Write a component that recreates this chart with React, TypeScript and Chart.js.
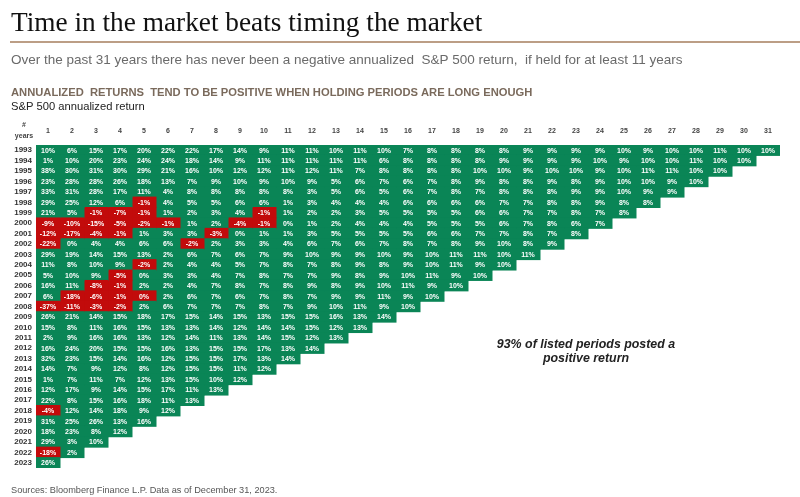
import React, { useEffect, useRef } from "react";
import { Chart, registerables } from "chart.js";

Chart.register(...registerables);

// ---- Data ----
const startYears = [
  1993, 1994, 1995, 1996, 1997, 1998, 1999, 2000, 2001, 2002, 2003, 2004, 2005, 2006, 2007, 2008,
  2009, 2010, 2011, 2012, 2013, 2014, 2015, 2016, 2017, 2018, 2019, 2020, 2021, 2022, 2023,
];
const holdingPeriods = [
  1, 2, 3, 4, 5, 6, 7, 8, 9, 10, 11, 12, 13, 14, 15, 16, 17, 18, 19, 20, 21, 22, 23, 24, 25, 26, 27, 28, 29, 30, 31,
];
const periodTickLabels = holdingPeriods.map((p) => String(p));

// Annualized return (%) for each start year, by holding period (1..n years)
const r1993 = [10, 6, 15, 17, 20, 22, 22, 17, 14, 9, 11, 11, 10, 11, 10, 7, 8, 8, 8, 8, 9, 9, 9, 9, 10, 9, 10, 10, 11, 10, 10];
const r1994 = [1, 10, 20, 23, 24, 24, 18, 14, 9, 11, 11, 11, 11, 11, 6, 8, 8, 8, 8, 9, 9, 9, 9, 10, 9, 10, 10, 11, 10, 10];
const r1995 = [38, 30, 31, 30, 29, 21, 16, 10, 12, 12, 11, 12, 11, 7, 8, 8, 8, 8, 10, 10, 9, 10, 10, 9, 10, 11, 11, 10, 10];
const r1996 = [23, 28, 28, 26, 18, 13, 7, 9, 10, 9, 10, 9, 5, 6, 7, 6, 7, 8, 9, 8, 8, 9, 8, 9, 10, 10, 9, 10];
const r1997 = [33, 31, 28, 17, 11, 4, 8, 8, 8, 8, 8, 3, 5, 6, 5, 6, 7, 8, 7, 8, 8, 8, 9, 9, 10, 9, 9];
const r1998 = [29, 25, 12, 6, -1, 4, 5, 5, 6, 6, 1, 3, 4, 4, 4, 6, 6, 6, 6, 7, 7, 8, 8, 9, 8, 8];
const r1999 = [21, 5, -1, -7, -1, 1, 2, 3, 4, -1, 1, 2, 2, 3, 5, 5, 5, 5, 6, 6, 7, 7, 8, 7, 8];
const r2000 = [-9, -10, -15, -5, -2, -1, 1, 2, -4, -1, 0, 1, 2, 4, 4, 4, 5, 5, 5, 6, 7, 8, 6, 7];
const r2001 = [-12, -17, -4, -1, 1, 3, 3, -3, 0, 1, 1, 3, 5, 5, 5, 5, 6, 6, 7, 7, 8, 7, 8];
const r2002 = [-22, 0, 4, 4, 6, 6, -2, 2, 3, 3, 4, 6, 7, 6, 7, 8, 7, 8, 9, 10, 8, 9];
const r2003 = [29, 19, 14, 15, 13, 2, 6, 7, 6, 7, 9, 10, 9, 9, 10, 9, 10, 11, 11, 10, 11];
const r2004 = [11, 8, 10, 9, -2, 2, 4, 4, 5, 7, 8, 7, 8, 9, 8, 9, 10, 11, 9, 10];
const r2005 = [5, 10, 9, -5, 0, 3, 3, 4, 7, 8, 7, 7, 9, 8, 9, 10, 11, 9, 10];
const r2006 = [16, 11, -8, -1, 2, 2, 4, 7, 8, 7, 8, 9, 8, 9, 10, 11, 9, 10];
const r2007 = [6, -18, -6, -1, -0.3, 2, 6, 7, 6, 7, 8, 7, 9, 9, 11, 9, 10];
const r2008 = [-37, -11, -3, -2, 2, 6, 7, 7, 7, 8, 7, 9, 10, 11, 9, 10];
const r2009 = [26, 21, 14, 15, 18, 17, 15, 14, 15, 13, 15, 15, 16, 13, 14];
const r2010 = [15, 8, 11, 16, 15, 13, 13, 14, 12, 14, 14, 15, 12, 13];
const r2011 = [2, 9, 16, 16, 13, 12, 14, 11, 13, 14, 15, 12, 13];
const r2012 = [16, 24, 20, 15, 15, 16, 13, 15, 15, 17, 13, 14];
const r2013 = [32, 23, 15, 14, 16, 12, 15, 15, 17, 13, 14];
const r2014 = [14, 7, 9, 12, 8, 12, 15, 15, 11, 12];
const r2015 = [1, 7, 11, 7, 12, 13, 15, 10, 12];
const r2016 = [12, 17, 9, 14, 15, 17, 11, 13];
const r2017 = [22, 8, 15, 16, 18, 11, 13];
const r2018 = [-4, 12, 14, 18, 9, 12];
const r2019 = [31, 25, 26, 13, 16];
const r2020 = [18, 23, 8, 12];
const r2021 = [29, 3, 10];
const r2022 = [-18, 2];
const r2023 = [26];

const returnsByStart = [
  r1993, r1994, r1995, r1996, r1997, r1998, r1999, r2000, r2001, r2002, r2003, r2004, r2005, r2006, r2007, r2008,
  r2009, r2010, r2011, r2012, r2013, r2014, r2015, r2016, r2017, r2018, r2019, r2020, r2021, r2022, r2023,
];

// ---- Styles ----
const GREEN = "#0a8556";
const RED = "#c20b0b";
const SANS = "'Liberation Sans', Arial, Helvetica, sans-serif";
const SERIF = "'Liberation Serif', 'Times New Roman', serif";

const cellLabelPlugin = {
  id: "cellLabels",
  afterDatasetsDraw(chart: any) {
    const ctx = chart.ctx;
    ctx.save();
    ctx.font = `bold 7px ${SANS}`;
    ctx.fillStyle = "#ffffff";
    ctx.textAlign = "center";
    ctx.textBaseline = "middle";
    chart.data.datasets.forEach((ds: any, j: number) => {
      const meta = chart.getDatasetMeta(j);
      meta.data.forEach((el: any, i: number) => {
        const v = returnsByStart[i][j];
        if (v === undefined || ds.data[i] == null) return;
        const c = el.getCenterPoint();
        ctx.fillText(`${Math.round(v)}%`, c.x, c.y + 0.5);
      });
    });
    ctx.restore();
  },
};

const textPlugin = {
  id: "pageText",
  afterDraw(chart: any) {
    const ctx = chart.ctx;
    ctx.save();
    ctx.textBaseline = "alphabetic";
    ctx.textAlign = "left";

    ctx.fillStyle = "#111111";
    ctx.font = `27.3px ${SERIF}`;
    ctx.fillText("Time in the market beats timing the market", 11, 31);

    ctx.strokeStyle = "#a67e5e";
    ctx.lineWidth = 1.5;
    ctx.beginPath();
    ctx.moveTo(10, 42);
    ctx.lineTo(800, 42);
    ctx.stroke();

    ctx.fillStyle = "#6a6a6a";
    ctx.font = `13.5px ${SANS}`;
    ctx.fillText(
      "Over the past 31 years there has never been a negative annualized  S&P 500 return,  if held for at least 11 years",
      11,
      64
    );

    ctx.fillStyle = "#7a6a5c";
    ctx.font = `bold 11.2px ${SANS}`;
    ctx.fillText("ANNUALIZED  RETURNS  TEND TO BE POSITIVE WHEN HOLDING PERIODS ARE LONG ENOUGH", 11, 96);

    ctx.fillStyle = "#222222";
    ctx.font = `11.2px ${SANS}`;
    ctx.fillText("S&P 500 annualized return", 11, 110);

    ctx.fillStyle = "#444444";
    ctx.font = `bold 7px ${SANS}`;
    ctx.textAlign = "center";
    ctx.fillText("#", 24, 127);
    ctx.fillText("years", 24, 138);

    ctx.fillStyle = "#222222";
    ctx.font = `italic bold 12.4px ${SANS}`;
    ctx.fillText("93% of listed periods posted a", 586, 348);
    ctx.fillText("positive return", 586, 362);

    ctx.textAlign = "left";
    ctx.fillStyle = "#555555";
    ctx.font = `9.2px ${SANS}`;
    ctx.fillText("Sources: Bloomberg Finance L.P. Data as of December 31, 2023.", 11, 493);
    ctx.restore();
  },
};

export default function App() {
  const ref = useRef<HTMLCanvasElement>(null);

  useEffect(() => {
    const canvas = ref.current;
    if (!canvas) return;

    const datasets = holdingPeriods.map((p, j) => ({
      label: periodTickLabels[j],
      data: startYears.map((_, i) => (returnsByStart[i][j] === undefined ? null : [p - 0.5, p + 0.5])),
      backgroundColor: (c: any) => {
        const v = returnsByStart[c.dataIndex] ? returnsByStart[c.dataIndex][j] : undefined;
        return v !== undefined && v < 0 ? RED : GREEN;
      },
      borderWidth: 0,
      barPercentage: 1,
      categoryPercentage: 1,
      grouped: false,
      inflateAmount: 0.5,
    }));

    const chart = new Chart(canvas, {
      type: "bar",
      data: { labels: startYears.map((y) => String(y)), datasets: datasets as any },
      options: {
        indexAxis: "y",
        responsive: false,
        animation: false,
        devicePixelRatio: 1,
        events: [],
        layout: { padding: { left: 0, top: 121, right: 20, bottom: 29 } },
        plugins: {
          legend: { display: false },
          tooltip: { enabled: false },
          title: { display: false },
        },
        scales: {
          x: {
            type: "linear",
            position: "top",
            min: 0.5,
            max: 31.5,
            grid: { display: false, drawTicks: false },
            border: { display: false },
            afterBuildTicks: (s: any) => {
              s.ticks = holdingPeriods.map((v) => ({ value: v }));
            },
            afterFit: (s: any) => {
              s.height = 24;
            },
            ticks: {
              autoSkip: false,
              maxRotation: 0,
              padding: 10,
              color: "#444444",
              font: { family: SANS, size: 7, weight: "bold" },
              callback: (_v: any, i: number) => periodTickLabels[i],
            },
          },
          y: {
            type: "category",
            grid: { display: false, drawTicks: false },
            border: { display: false },
            afterFit: (s: any) => {
              s.width = 36;
            },
            ticks: {
              autoSkip: false,
              padding: 4,
              color: "#333333",
              font: { family: SANS, size: 8, weight: "bold" },
            },
          },
        },
      } as any,
      plugins: [cellLabelPlugin, textPlugin],
    });

    return () => chart.destroy();
  }, []);

  return (
    <div style={{ position: "absolute", left: 0, top: 0, width: 800, height: 497, background: "#ffffff" }}>
      <canvas ref={ref} width={800} height={497} style={{ display: "block" }} />
    </div>
  );
}
